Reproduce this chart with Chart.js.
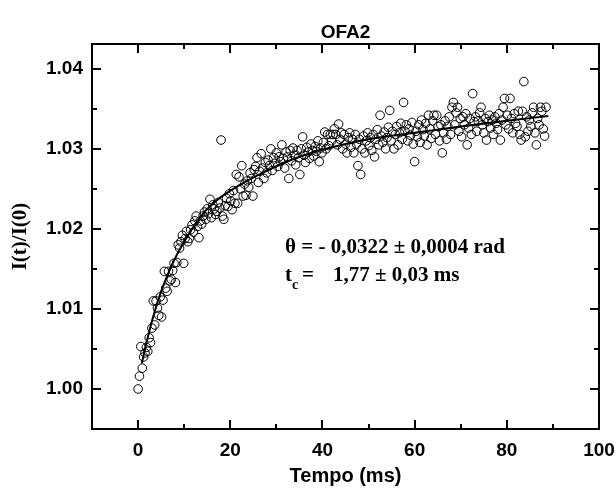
<!DOCTYPE html>
<html lang="pt">
<head>
    <meta charset="UTF-8">
    <title>OFA2</title>
    <script src="https://cdn.jsdelivr.net/npm/chart.js"></script>
    <style>
        html, body { margin: 0; padding: 0; background: #fff; }
        canvas { display: block; }
    </style>
</head>
<body>
    <canvas id="tlChart" width="616" height="495"></canvas>

    <script>
        // Measured points (time in ms, normalised intensity)
        const tempo = [
            0.0, 0.3, 0.6, 0.9, 1.2, 1.5, 1.8, 2.1, 2.4, 2.7, 3.0, 3.3, 3.6, 3.9, 4.2, 4.5, 4.8, 5.1, 5.4, 5.7,
            6.0, 6.3, 6.6, 6.9, 7.2, 7.5, 7.8, 8.1, 8.4, 8.7, 9.0, 9.3, 9.6, 9.9, 10.2, 10.5, 10.8, 11.1, 11.4, 11.7,
            12.0, 12.3, 12.6, 12.9, 13.2, 13.5, 13.8, 14.1, 14.4, 14.7, 15.0, 15.3, 15.6, 15.9, 16.2, 16.5, 16.8, 17.1, 17.4, 17.7,
            18.0, 18.3, 18.6, 18.9, 19.2, 19.5, 19.8, 20.1, 20.4, 20.7, 21.0, 21.3, 21.6, 21.9, 22.2, 22.5, 22.8, 23.1, 23.4, 23.7,
            24.0, 24.3, 24.6, 24.9, 25.2, 25.5, 25.8, 26.1, 26.4, 26.7, 27.0, 27.3, 27.6, 27.9, 28.2, 28.5, 28.8, 29.1, 29.4, 29.7,
            30.0, 30.3, 30.6, 30.9, 31.2, 31.5, 31.8, 32.1, 32.4, 32.7, 33.0, 33.3, 33.6, 33.9, 34.2, 34.5, 34.8, 35.1, 35.4, 35.7,
            36.0, 36.3, 36.6, 36.9, 37.2, 37.5, 37.8, 38.1, 38.4, 38.7, 39.0, 39.3, 39.6, 39.9, 40.2, 40.5, 40.8, 41.1, 41.4, 41.7,
            42.0, 42.3, 42.6, 42.9, 43.2, 43.5, 43.8, 44.1, 44.4, 44.7, 45.0, 45.3, 45.6, 45.9, 46.2, 46.5, 46.8, 47.1, 47.4, 47.7,
            48.0, 48.3, 48.6, 48.9, 49.2, 49.5, 49.8, 50.1, 50.4, 50.7, 51.0, 51.3, 51.6, 51.9, 52.2, 52.5, 52.8, 53.1, 53.4, 53.7,
            54.0, 54.3, 54.6, 54.9, 55.2, 55.5, 55.8, 56.1, 56.4, 56.7, 57.0, 57.3, 57.6, 57.9, 58.2, 58.5, 58.8, 59.1, 59.4, 59.7,
            60.0, 60.3, 60.6, 60.9, 61.2, 61.5, 61.8, 62.1, 62.4, 62.7, 63.0, 63.3, 63.6, 63.9, 64.2, 64.5, 64.8, 65.1, 65.4, 65.7,
            66.0, 66.3, 66.6, 66.9, 67.2, 67.5, 67.8, 68.1, 68.4, 68.7, 69.0, 69.3, 69.6, 69.9, 70.2, 70.5, 70.8, 71.1, 71.4, 71.7,
            72.0, 72.3, 72.6, 72.9, 73.2, 73.5, 73.8, 74.1, 74.4, 74.7, 75.0, 75.3, 75.6, 75.9, 76.2, 76.5, 76.8, 77.1, 77.4, 77.7,
            78.0, 78.3, 78.6, 78.9, 79.2, 79.5, 79.8, 80.1, 80.4, 80.7, 81.0, 81.3, 81.6, 81.9, 82.2, 82.5, 82.8, 83.1, 83.4, 83.7,
            84.0, 84.3, 84.6, 84.9, 85.2, 85.5, 85.8, 86.1, 86.4, 86.7, 87.0, 87.3, 87.6, 87.9, 88.2, 88.5
        ];
        const intensidade = [
            1.0000, 1.0016, 1.0053, 1.0026, 1.0040, 1.0045, 1.0052, 1.0047, 1.0064, 1.0058, 1.0076, 1.0110, 1.0080, 1.0110, 1.0101, 1.0092, 1.0115, 1.0090, 1.0111, 1.0147,
            1.0126, 1.0122, 1.0147, 1.0135, 1.0137, 1.0148, 1.0157, 1.0133, 1.0158, 1.0180, 1.0176, 1.0184, 1.0192, 1.0157, 1.0188, 1.0197, 1.0184, 1.0188, 1.0199, 1.0205,
            1.0196, 1.0210, 1.0216, 1.0203, 1.0189, 1.0210, 1.0206, 1.0216, 1.0221, 1.0212, 1.0225, 1.0219, 1.0237, 1.0214, 1.0230, 1.0225, 1.0218, 1.0222, 1.0233, 1.0226,
            1.0311, 1.0216, 1.0212, 1.0229, 1.0238, 1.0228, 1.0244, 1.0235, 1.0224, 1.0248, 1.0232, 1.0268, 1.0232, 1.0265, 1.0250, 1.0279, 1.0241, 1.0256, 1.0242, 1.0260,
            1.0252, 1.0270, 1.0263, 1.0241, 1.0274, 1.0278, 1.0289, 1.0258, 1.0272, 1.0294, 1.0276, 1.0263, 1.0283, 1.0270, 1.0286, 1.0279, 1.0300, 1.0273, 1.0289, 1.0282,
            1.0295, 1.0278, 1.0290, 1.0284, 1.0305, 1.0288, 1.0276, 1.0296, 1.0290, 1.0263, 1.0298, 1.0285, 1.0301, 1.0292, 1.0280, 1.0298, 1.0289, 1.0268, 1.0300, 1.0315,
            1.0292, 1.0283, 1.0302, 1.0296, 1.0288, 1.0306, 1.0298, 1.0291, 1.0303, 1.0297, 1.0310, 1.0284, 1.0301, 1.0295, 1.0308, 1.0321, 1.0300, 1.0318, 1.0304, 1.0318,
            1.0310, 1.0318, 1.0325, 1.0318, 1.0305, 1.0331, 1.0312, 1.0320, 1.0300, 1.0318, 1.0306, 1.0295, 1.0314, 1.0320, 1.0302, 1.0312, 1.0295, 1.0318, 1.0306, 1.0279,
            1.0312, 1.0268, 1.0300, 1.0316, 1.0295, 1.0310, 1.0320, 1.0304, 1.0314, 1.0298, 1.0318, 1.0290, 1.0312, 1.0324, 1.0305, 1.0342, 1.0316, 1.0308, 1.0321, 1.0300,
            1.0314, 1.0327, 1.0348, 1.0310, 1.0322, 1.0300, 1.0318, 1.0328, 1.0305, 1.0320, 1.0332, 1.0312, 1.0358, 1.0322, 1.0330, 1.0310, 1.0325, 1.0317, 1.0333, 1.0306,
            1.0284, 1.0322, 1.0315, 1.0330, 1.0308, 1.0336, 1.0324, 1.0316, 1.0332, 1.0305, 1.0342, 1.0325, 1.0313, 1.0335, 1.0342, 1.0318, 1.0342, 1.0328, 1.0310, 1.0330,
            1.0295, 1.0320, 1.0335, 1.0312, 1.0328, 1.0340, 1.0318, 1.0352, 1.0358, 1.0330, 1.0345, 1.0352, 1.0322, 1.0338, 1.0315, 1.0340, 1.0330, 1.0344, 1.0305, 1.0326,
            1.0338, 1.0318, 1.0369, 1.0334, 1.0340, 1.0322, 1.0335, 1.0345, 1.0352, 1.0330, 1.0320, 1.0338, 1.0311, 1.0334, 1.0342, 1.0326, 1.0336, 1.0318, 1.0340, 1.0332,
            1.0324, 1.0344, 1.0311, 1.0336, 1.0352, 1.0363, 1.0330, 1.0342, 1.0325, 1.0363, 1.0338, 1.0320, 1.0344, 1.0332, 1.0328, 1.0347, 1.0318, 1.0311, 1.0347, 1.0384,
            1.0315, 1.0340, 1.0322, 1.0336, 1.0328, 1.0345, 1.0352, 1.0320, 1.0305, 1.0338, 1.0330, 1.0352, 1.0347, 1.0325, 1.0316, 1.0352
        ];

        // Fitted curve
        const ajusteTempo = [0.8, 2, 3.25, 5, 7.5, 10, 13.3, 15, 18, 22.7, 27, 31.4, 36, 41.4, 50, 60, 70, 80, 89];
        const ajusteValor = [1.0032, 1.0062, 1.0090, 1.0122, 1.0157, 1.0184, 1.0213, 1.0225, 1.0240, 1.0257, 1.0270, 1.0282, 1.0292, 1.0301, 1.0312, 1.0320, 1.0328, 1.0335, 1.0341];

        // Axis ticks
        const xTicks = [0, 20, 40, 60, 80, 100];
        const xMinorTicks = [10, 30, 50, 70, 90];
        const yTicks = [1.00, 1.01, 1.02, 1.03, 1.04];
        const yMinorTicks = [1.005, 1.015, 1.025, 1.035];

        const sansBold = (size) => ({ family: '"Liberation Sans", Arial, sans-serif', size: size, weight: 'bold' });

        // Frame with inward ticks, titles and the fit annotation
        const framePlugin = {
            id: 'frame',
            afterDraw(chart) {
                const { ctx, chartArea: a, scales } = chart;
                const xs = scales.x, ys = scales.y;
                ctx.save();
                ctx.strokeStyle = '#000';
                ctx.lineWidth = 2;
                ctx.strokeRect(a.left, a.top, a.right - a.left, a.bottom - a.top);

                ctx.beginPath();
                const tickX = (v, len) => {
                    const px = Math.round(xs.getPixelForValue(v));
                    ctx.moveTo(px, a.bottom); ctx.lineTo(px, a.bottom - len);
                    ctx.moveTo(px, a.top); ctx.lineTo(px, a.top + len);
                };
                const tickY = (v, len) => {
                    const py = Math.round(ys.getPixelForValue(v));
                    ctx.moveTo(a.left, py); ctx.lineTo(a.left + len, py);
                    ctx.moveTo(a.right, py); ctx.lineTo(a.right - len, py);
                };
                xTicks.forEach(v => tickX(v, 9));
                xMinorTicks.forEach(v => tickX(v, 5));
                yTicks.forEach(v => tickY(v, 9));
                yMinorTicks.forEach(v => tickY(v, 5));
                ctx.stroke();

                ctx.fillStyle = '#000';
                ctx.textAlign = 'center';
                ctx.textBaseline = 'middle';
                ctx.font = 'bold 19px "Liberation Sans", Arial, sans-serif';
                ctx.fillText('OFA2', (a.left + a.right) / 2, 33);

                ctx.font = 'bold 20px "Liberation Sans", Arial, sans-serif';
                ctx.fillText('Tempo (ms)', (a.left + a.right) / 2, 476);

                ctx.save();
                ctx.translate(21, (a.top + a.bottom) / 2);
                ctx.rotate(-Math.PI / 2);
                ctx.font = 'bold 21px "Liberation Serif", "Times New Roman", serif';
                ctx.fillText('I(t)/I(0)', 0, 0);
                ctx.restore();

                // annotation
                ctx.textAlign = 'left';
                ctx.textBaseline = 'alphabetic';
                const serif = 'bold 21px "Liberation Serif", "Times New Roman", serif';
                ctx.font = serif;
                ctx.fillText('\u03B8 = - 0,0322 \u00B1 0,0004 rad', 285, 253);
                ctx.fillText('t', 285, 281);
                ctx.font = 'bold 14px "Liberation Serif", "Times New Roman", serif';
                ctx.fillText('c', 292, 289);
                ctx.font = serif;
                ctx.fillText('=', 302, 281);
                ctx.fillText('1,77 \u00B1 0,03 ms', 333, 281);
                ctx.restore();
            }
        };

        const ctx = document.getElementById('tlChart').getContext('2d');

        new Chart(ctx, {
            type: 'scatter',
            data: {
                datasets: [
                    {
                        label: 'Ajuste',
                        type: 'line',
                        data: ajusteTempo.map((t, i) => ({ x: t, y: ajusteValor[i] })),
                        borderColor: '#000',
                        borderWidth: 2,
                        pointRadius: 0,
                        fill: false,
                        cubicInterpolationMode: 'monotone',
                        order: 0
                    },
                    {
                        label: 'Dados',
                        data: tempo.map((t, i) => ({ x: t, y: intensidade[i] })),
                        pointStyle: 'circle',
                        pointRadius: 4.3,
                        borderWidth: 1,
                        borderColor: '#000',
                        backgroundColor: 'rgba(255,255,255,0)',
                        order: 1
                    }
                ]
            },
            options: {
                responsive: false,
                animation: false,
                layout: { padding: { top: 44, right: 17, left: 0, bottom: 0 } },
                plugins: {
                    legend: { display: false },
                    tooltip: { enabled: false },
                    title: { display: false }
                },
                scales: {
                    x: {
                        type: 'linear',
                        min: -10,
                        max: 100,
                        grid: { display: false, drawTicks: false },
                        border: { display: false },
                        afterBuildTicks: (scale) => { scale.ticks = xTicks.map(v => ({ value: v })); },
                        afterFit: (scale) => {
                            scale.height = 66;
                            // the "100" label may run past the frame, as in the original
                            scale.paddingLeft = 0;
                            scale.paddingRight = 0;
                        },
                        ticks: {
                            color: '#000',
                            font: sansBold(19),
                            padding: 10,
                            maxRotation: 0,
                            callback: (v) => String(v)
                        }
                    },
                    y: {
                        type: 'linear',
                        min: 0.995,
                        max: 1.0431,
                        grid: { display: false, drawTicks: false },
                        border: { display: false },
                        afterBuildTicks: (scale) => { scale.ticks = yTicks.map(v => ({ value: v })); },
                        afterFit: (scale) => { scale.width = 92; },
                        ticks: {
                            color: '#000',
                            font: sansBold(19),
                            padding: 9,
                            callback: (v) => Number(v).toFixed(2)
                        }
                    }
                }
            },
            plugins: [framePlugin]
        });
    </script>
</body>
</html>
